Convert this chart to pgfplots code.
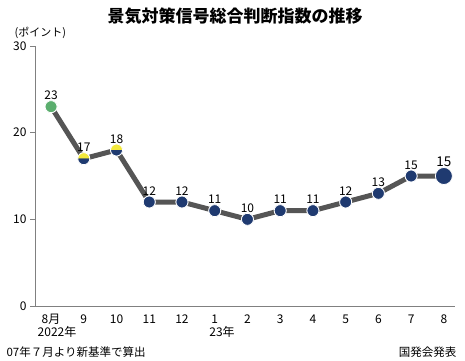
\documentclass[border=0pt]{standalone}
\usepackage{fontspec}
\setmainfont{Noto Sans CJK JP}
\usepackage{pgfplots}
\pgfplotsset{compat=1.18}
\definecolor{navy}{HTML}{1F3A70}
\definecolor{myyellow}{HTML}{F2E83A}
\definecolor{mygreen}{HTML}{5BAE6E}
\definecolor{linegray}{HTML}{555555}
\definecolor{axgray}{HTML}{808080}
\pgfdeclareplotmark{halfyn}{%
  \pgfpathmoveto{\pgfqpoint{-\pgfplotmarksize}{0pt}}%
  \pgfpatharc{180}{0}{\pgfplotmarksize}%
  \pgfpathclose
  \pgfsetfillcolor{myyellow}\pgfusepath{fill}%
  \pgfpathmoveto{\pgfqpoint{\pgfplotmarksize}{0pt}}%
  \pgfpatharc{0}{-180}{\pgfplotmarksize}%
  \pgfpathclose
  \pgfsetfillcolor{navy}\pgfusepath{fill}%
  \pgfpathcircle{\pgfpointorigin}{\pgfplotmarksize}%
  \pgfsetstrokecolor{white}\pgfsetlinewidth{0.8pt}\pgfusepath{stroke}%
}
\begin{document}
\begin{tikzpicture}
\path[use as bounding box] (0,0) rectangle (465pt,360pt);
\begin{axis}[
  at={(35pt,54pt)}, anchor=south west,
  scale only axis, width=420pt, height=260pt,
  xmin=-0.49, xmax=12.34, ymin=0, ymax=30,
  axis x line*=bottom, axis y line*=left,
  axis line style={axgray, line width=0.8pt, -},
  ytick={0,10,20,30},
  ytick style={axgray, line width=0.8pt},
  major tick length=5pt,
  tick align=outside,
  xtick={0,...,12},
  xticklabels={8月,9,10,11,12,1,2,3,4,5,6,7,8},
  xtick style={draw=none},
  ticklabel style={font=\fontsize{12}{13}\selectfont},
  /pgf/number format/assume math mode=true,
  clip=false,
  nodes near coords,
  every node near coord/.append style={font=\fontsize{12}{13}\selectfont, black, yshift=3pt},
]
\addplot[linegray, line width=5pt, mark=*, mark size=6pt,
  mark options={fill=navy, draw=white, line width=0.8pt}, nodes near coords={}]
coordinates {(0,23)(1,17)(2,18)(3,12)(4,12)(5,11)(6,10)(7,11)(8,11)(9,12)(10,13)(11,15)(12,15)};
\addplot[only marks, mark=*, mark size=6pt, mark options={fill=navy, draw=white, line width=0.8pt}]
coordinates {(3,12)(4,12)(5,11)(6,10)(7,11)(8,11)(9,12)(10,13)(11,15)};
\addplot[only marks, mark=*, mark size=6pt, mark options={fill=mygreen, draw=white, line width=0.8pt}]
coordinates {(0,23)};
\addplot[only marks, mark=halfyn, mark size=6pt]
coordinates {(1,17)(2,18)};
\addplot[only marks, mark=*, mark size=8.5pt, mark options={fill=navy, draw=white, line width=0.8pt},
  every node near coord/.append style={yshift=3pt, font=\fontsize{13.5}{14}\selectfont}]
coordinates {(12,15)};
\end{axis}
\node[font=\fontsize{17}{18}\selectfont\bfseries] at (235pt,344pt) {景気対策信号総合判断指数の推移};
\node[anchor=west, font=\fontsize{11}{12}\selectfont] at (11pt,327pt) {(ポイント)};
\node[font=\fontsize{12}{13}\selectfont] at (57pt,28pt) {2022年};
\node[font=\fontsize{12}{13}\selectfont] at (222pt,28pt) {23年};
\node[anchor=west, font=\fontsize{11.5}{12}\selectfont] at (3pt,8pt) {07年７月より新基準で算出};
\node[anchor=east, font=\fontsize{11.5}{12}\selectfont] at (460pt,8pt) {国発会発表};
\end{tikzpicture}
\end{document}
